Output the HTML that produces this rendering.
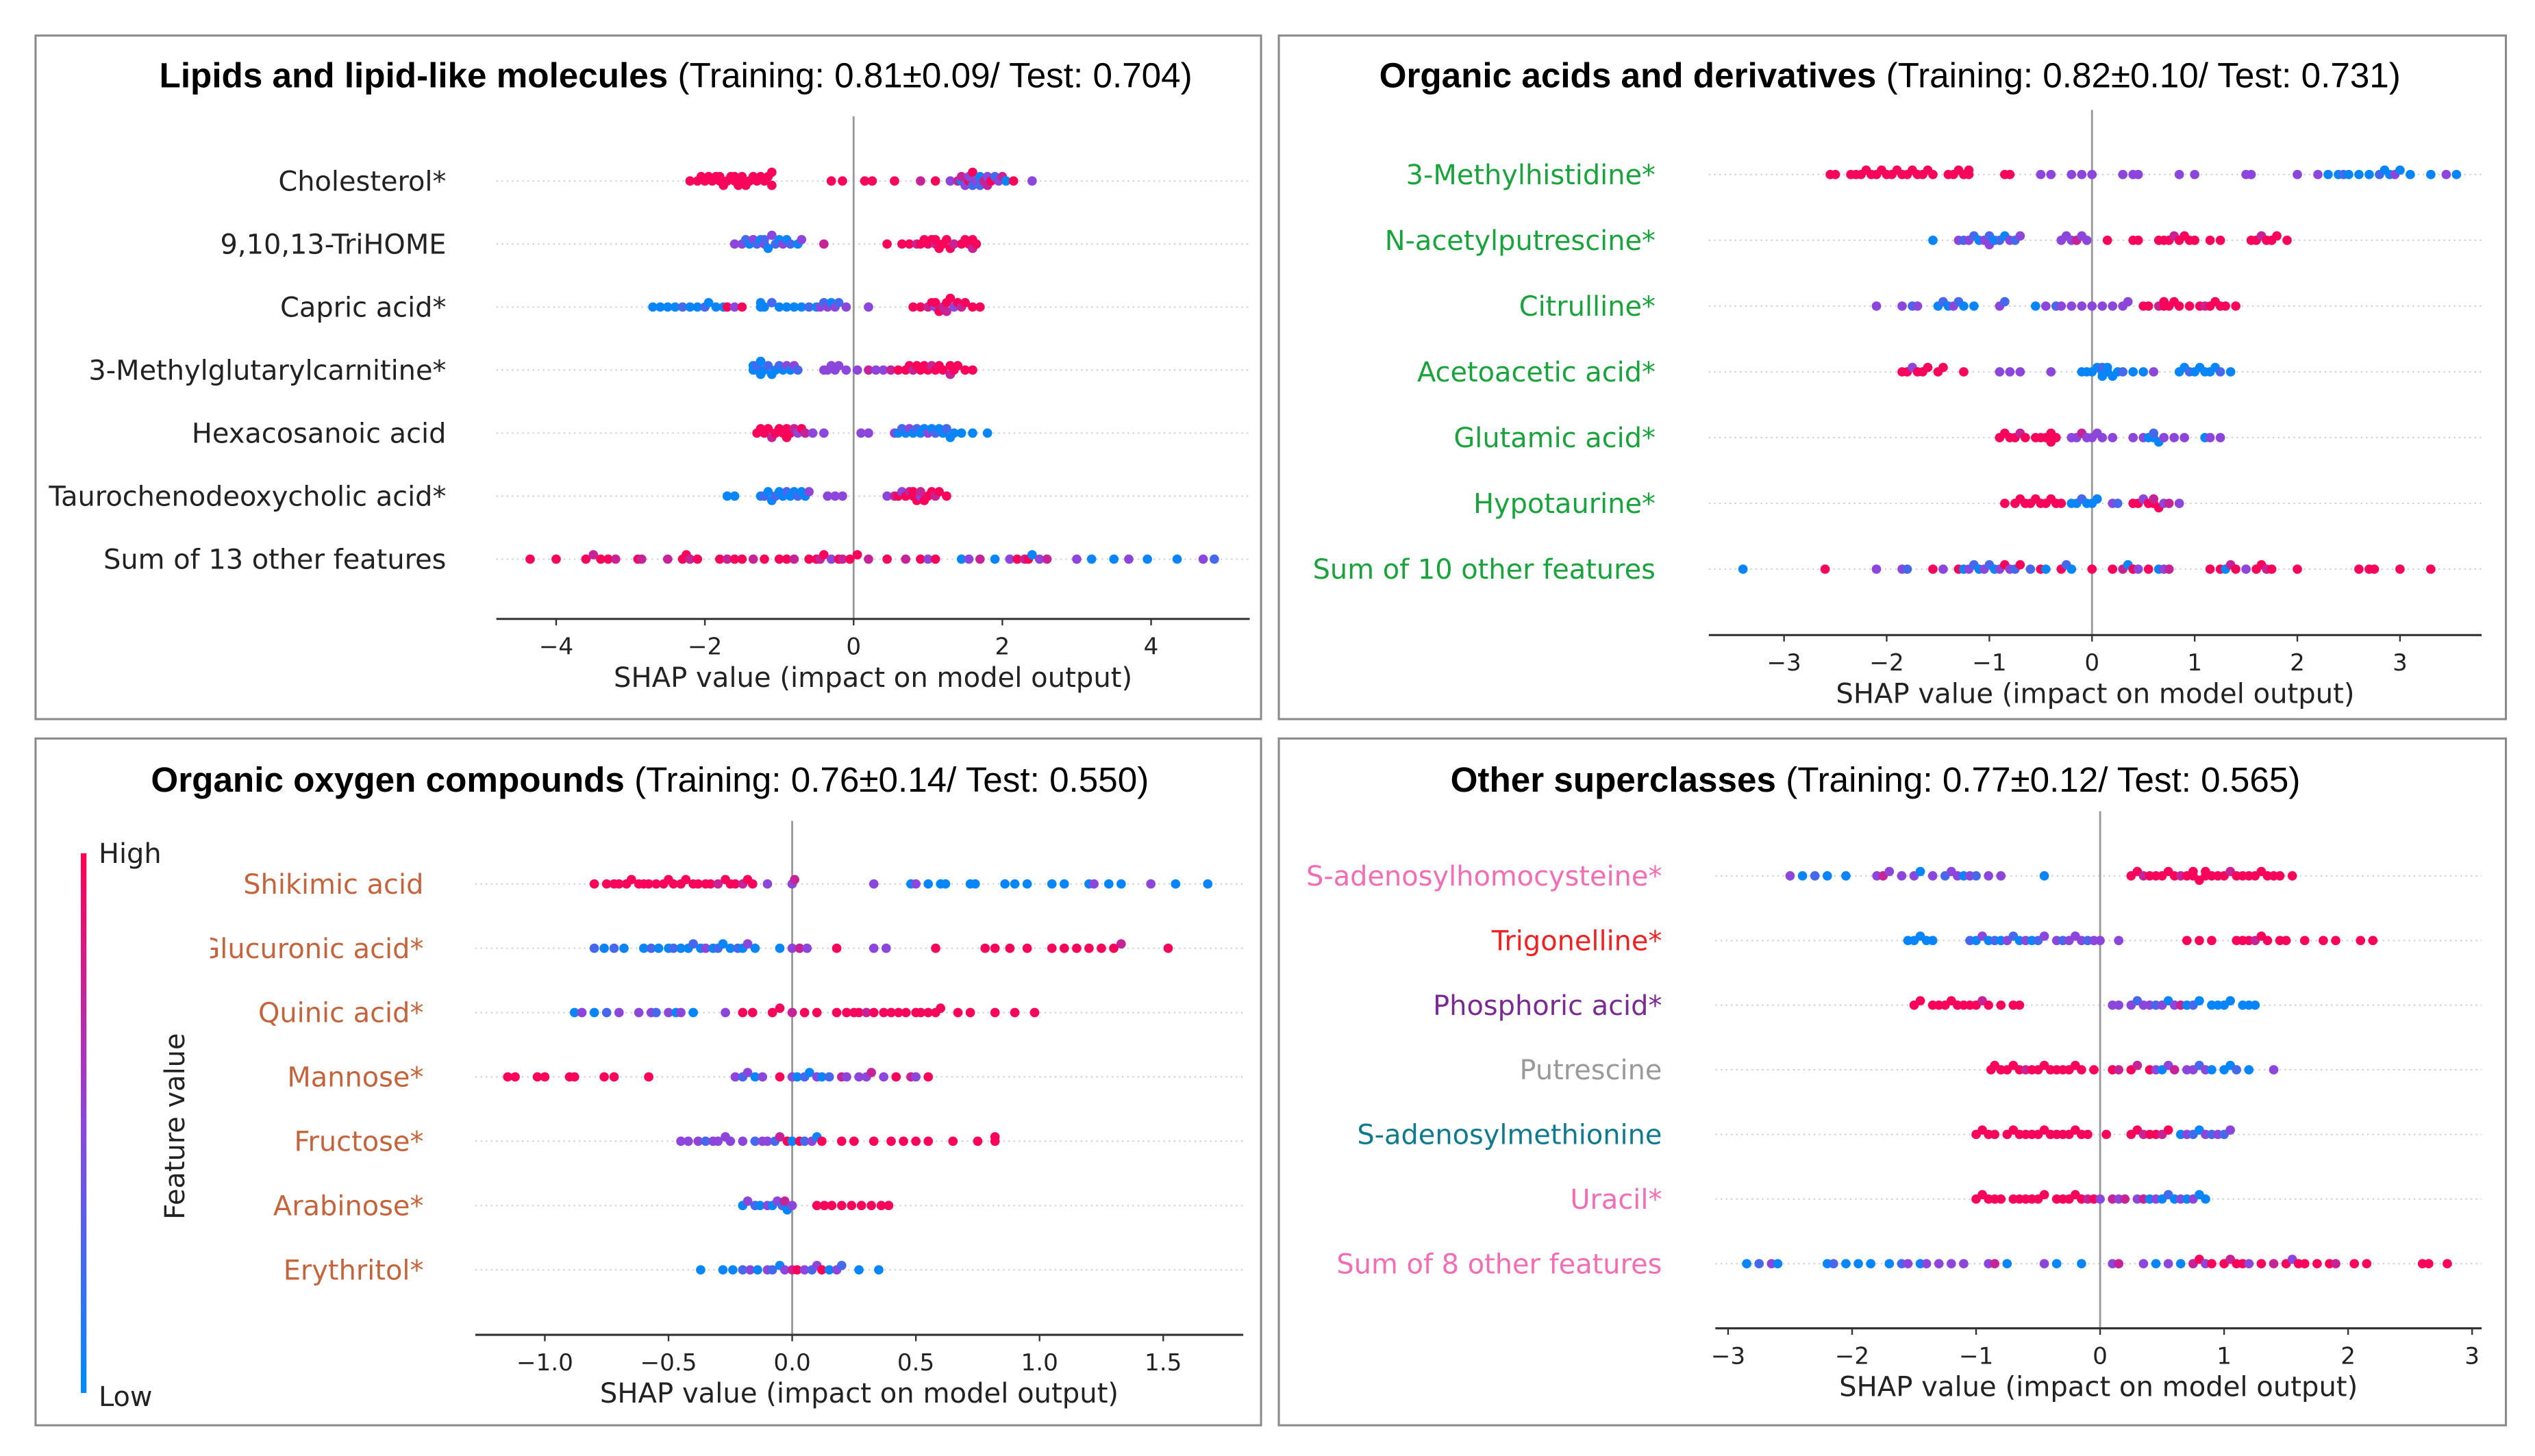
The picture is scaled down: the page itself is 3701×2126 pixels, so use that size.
<!DOCTYPE html>
<html><head><meta charset="utf-8"><style>
html,body{margin:0;padding:0;background:#fff;}
svg{display:block;}
.lab{font-family:"DejaVu Sans",sans-serif;font-size:16.9px;}
.axt{font-family:"DejaVu Sans",sans-serif;font-size:17px;fill:#222;}
.tick{font-family:"DejaVu Sans",sans-serif;font-size:14.5px;fill:#222;}
.ttl{font-family:"Liberation Sans",sans-serif;font-size:21.7px;fill:#000;}
</style></head><body>
<svg id="fig" xmlns="http://www.w3.org/2000/svg" width="3701" height="2126" viewBox="0 0 1568 901" preserveAspectRatio="none">
<rect x="0" y="0" width="1568" height="901" fill="#fff"/>
<defs><linearGradient id="cb" x1="0" y1="1" x2="0" y2="0">
<stop offset="0" stop-color="#008bfb"/><stop offset="0.5" stop-color="#8c46dc"/><stop offset="1" stop-color="#ff0052"/></linearGradient>
<clipPath id="oxyclip"><rect x="130" y="457" width="700" height="430"/></clipPath></defs>
<g>
<rect x="50" y="528" width="3.5" height="334" fill="url(#cb)"/>
<text class="lab" x="61" y="534" fill="#222">High</text>
<text class="lab" x="61" y="870" fill="#222">Low</text>
<text class="lab" transform="translate(114,697) rotate(-90)" text-anchor="middle" fill="#222" font-size="18">Feature value</text>
</g>
</svg>
<script>
// ---------- data ----------
const lipLabels=["Cholesterol*","9,10,13-TriHOME","Capric acid*","3-Methylglutarylcarnitine*","Hexacosanoic acid","Taurochenodeoxycholic acid*","Sum of 13 other features"];
const lipTicks=[-4,-2,0,2,4];
const lipRows=[
"-2.2h -2.1h -2.05h -2.0h -1.95h -1.9h -1.85h -1.8h -1.8h -1.75h -1.7h -1.65h -1.6h -1.6h -1.55h -1.5h -1.5h -1.45h -1.4h -1.35h -1.3h -1.25h -1.2h -1.15h -1.1h -1.1h -0.3h -0.15h 0.15h 0.25h 0.55h 0.9p 1.1h 1.3m 1.4p 1.45l 1.5m 1.55h 1.6b 1.65m 1.7l 1.75p 1.8m 1.85h 1.9b 1.95m 2.0p 2.05l 2.15h 2.4m 1.45p 1.55m 1.6h 1.7b 1.8p",
"-1.6m -1.5m -1.45b -1.4l -1.35m -1.3b -1.25l -1.2m -1.2b -1.15l -1.1m -1.05b -1.0l -0.95m -0.9l -0.85b -0.75l -0.7m -0.4p 0.45h 0.65h 0.75h 0.85p 0.9h 0.95h 1.0h 1.05h 1.1p 1.1h 1.15h 1.2h 1.25h 1.3h 1.35p 1.45h 1.5h 1.55h 1.6h 1.65h 1.6p",
"-2.7l -2.6l -2.5l -2.4l -2.3b -2.2l -2.1l -2.0b -1.95l -1.85l -1.75l -1.7h -1.6m -1.5h -1.25l -1.25l -1.2l -1.1b -1.0l -0.9l -0.8l -0.7l -0.6b -0.5l -0.45m -0.4b -0.35m -0.3l -0.25m -0.2b -0.1m 0.2m 0.8h 0.9h 1.0p 1.05h 1.1m 1.15h 1.2p 1.25h 1.3h 1.35m 1.4h 1.45p 1.5h 1.6h 1.7h 1.1h 1.25p",
"-1.35l -1.35l -1.3l -1.3b -1.25l -1.25l -1.2l -1.15b -1.1l -1.05l -1.0b -0.95l -0.9m -0.85l -0.8m -0.75b -0.4m -0.35m -0.3m -0.25m -0.2m -0.1m 0.05m 0.2p 0.3m 0.4m 0.5p 0.6h 0.7h 0.75h 0.8p 0.85h 0.9h 0.95h 1.0h 1.05p 1.1h 1.15h 1.2h 1.3h 1.35h 1.4h 1.5h 1.6h 1.3p",
"-1.3h -1.25h -1.2h -1.15h -1.1p -1.05h -1.0h -0.95h -0.9h -0.9h -0.85h -0.8p -0.75m -0.7h -0.65p -0.55m -0.4m 0.1m 0.2m 0.55m 0.6l 0.65b 0.7l 0.75m 0.8l 0.85b 0.9l 0.95l 1.0m 1.05l 1.1b 1.15l 1.2l 1.25b 1.3l 1.35l 1.45l 1.6l 1.8l",
"-1.7l -1.6l -1.25l -1.2b -1.15l -1.1l -1.05b -1.0l -0.95l -0.9b -0.85l -0.8l -0.75b -0.7l -0.65l -0.6m -0.35m -0.25m -0.15m 0.45m 0.55p 0.6h 0.65m 0.7h 0.75p 0.8h 0.85h 0.9m 0.95h 1.0h 1.05h 1.1p 1.15h 1.25h 0.8h 0.9p",
"-4.35h -4.0h -3.6h -3.5p -3.4h -3.3h -3.2p -2.9h -2.85p -2.5p -2.3h -2.25h -2.2p -2.1h -1.8h -1.7p -1.6h -1.5h -1.35p -1.2h -1.0h -0.9h -0.8p -0.6h -0.5h -0.45p -0.4h -0.3m -0.2h -0.15p -0.05h 0.05h 0.2p 0.45h 0.7p 0.9h 1.0m 1.1h 1.45l 1.55m 1.7p 1.9l 2.1m 2.2h 2.3p 2.35h 2.4l 2.5m 2.6p 3.0m 3.2l 3.5l 3.7m 3.95l 4.35l 4.7m 4.85b"
];

const acidLabels=["3-Methylhistidine*","N-acetylputrescine*","Citrulline*","Acetoacetic acid*","Glutamic acid*","Hypotaurine*","Sum of 10 other features"];
const acidTicks=[-3,-2,-1,0,1,2,3];
const acidRows=[
"-2.55h -2.5h -2.35h -2.3h -2.25h -2.2h -2.15h -2.1h -2.05h -2.0h -1.95h -1.9h -1.85h -1.8h -1.75h -1.7h -1.65h -1.6h -1.55h -1.4h -1.35h -1.3h -1.25h -1.2h -1.2h -0.85h -0.8h -0.5m -0.4m -0.2m -0.1m 0.0m 0.3m 0.4m 0.45m 0.85m 1.0m 1.5m 1.55m 2.0m 2.2m 2.3l 2.4l 2.45b 2.5l 2.6l 2.7l 2.8b 2.85l 2.9l 2.95m 3.0l 3.1l 3.3l 3.45m 3.55l",
"-1.55l -1.3m -1.25b -1.2m -1.15b -1.1l -1.05m -1.0b -1.0m -0.95l -0.9b -0.85l -0.8m -0.75b -0.7m -0.3m -0.25m -0.2m -0.15p -0.1m -0.05m 0.15h 0.4h 0.45h 0.65h 0.7h 0.75h 0.8p 0.85h 0.9h 0.95h 1.0h 1.15h 1.25h 1.55h 1.6h 1.65p 1.7h 1.75h 1.8h 1.9h",
"-2.1m -1.85m -1.75b -1.7m -1.5l -1.45b -1.4l -1.35m -1.3b -1.25l -1.15l -0.9m -0.85b -0.55l -0.45m -0.35b -0.3m -0.2m -0.1m 0.0m 0.1m 0.2m 0.3m 0.35m 0.5h 0.55h 0.65p 0.7h 0.75h 0.8h 0.85h 0.95h 1.05h 1.1p 1.15h 1.2h 1.25h 1.3h 1.4h 0.7h",
"-1.85h -1.8h -1.75m -1.7h -1.65h -1.6h -1.5h -1.45h -1.25h -0.9m -0.8m -0.7m -0.4m -0.1l -0.05l 0.0l 0.05l 0.1l 0.1b 0.15l 0.2l 0.25l 0.3b 0.4l 0.5l 0.6m 0.85l 0.9l 0.95b 1.0l 1.05l 1.1l 1.15l 1.2l 1.25b 1.35l 0.1l 0.15l",
"-0.9h -0.85h -0.8h -0.75h -0.7p -0.65h -0.55h -0.5h -0.45h -0.4h -0.4h -0.35h -0.2m -0.15m -0.1p -0.05m 0.0m 0.05m 0.1m 0.2m 0.4m 0.5m 0.55l 0.6l 0.6b 0.65l 0.7m 0.8m 0.9m 1.1l 1.15m 1.25m",
"-0.85h -0.75h -0.7h -0.65h -0.6h -0.55h -0.5h -0.45h -0.4h -0.35h -0.3h -0.2l -0.15l -0.1b -0.05l 0.0l 0.05l 0.2m 0.25b 0.4h 0.45h 0.5m 0.55h 0.6h 0.6p 0.65h 0.7m 0.75p 0.85m",
"-3.4l -2.6h -2.1m -1.85m -1.8b -1.55h -1.45m -1.3h -1.25l -1.2m -1.15b -1.1l -1.05m -1.0b -0.95l -0.9m -0.85h -0.8m -0.75b -0.7h -0.6b -0.5h -0.45l -0.3h -0.25b -0.2l 0.0h 0.2h 0.3p 0.35l 0.4h 0.45m 0.55h 0.65l 0.7m 0.75p 1.15h 1.25h 1.3l 1.35p 1.4h 1.5m 1.6h 1.65h 1.7p 1.75h 2.0h 2.6h 2.7h 2.75h 3.0h 3.3h"
];

const oxyLabels=["Shikimic acid","Glucuronic acid*","Quinic acid*","Mannose*","Fructose*","Arabinose*","Erythritol*"];
const oxyTicks=[-1.0,-0.5,0.0,0.5,1.0,1.5];
const oxyRows=[
"-0.8h -0.75h -0.72h -0.7h -0.67h -0.65h -0.62h -0.6h -0.58h -0.55h -0.52h -0.5h -0.48h -0.45h -0.43h -0.4h -0.38h -0.35h -0.33h -0.3p -0.27h -0.25h -0.23h -0.2p -0.18h -0.16h -0.1m 0.0m 0.01p 0.33m 0.48l 0.5m 0.55l 0.6l 0.62l 0.72l 0.74l 0.86l 0.9l 0.95l 1.05l 1.1l 1.2l 1.22m 1.28l 1.33l 1.45m 1.55l 1.68l",
"-0.8b -0.76l -0.72b -0.68l -0.6l -0.57b -0.54l -0.5l -0.48b -0.45l -0.42l -0.4b -0.37l -0.35m -0.32l -0.3b -0.28l -0.25l -0.22b -0.2l -0.18m -0.15l -0.05l 0.0m 0.03p 0.06m 0.18h 0.33m 0.38m 0.58h 0.78h 0.82h 0.88h 0.95h 1.05h 1.1h 1.15h 1.2h 1.25h 1.3h 1.33p 1.52h",
"-0.88l -0.85m -0.8l -0.75b -0.7m -0.62m -0.57m -0.55b -0.5m -0.47l -0.45m -0.4l -0.27m -0.2h -0.16h -0.08h -0.05h 0.0p 0.05h 0.1h 0.18h 0.22h 0.25h 0.27h 0.3p 0.33h 0.37h 0.4h 0.43h 0.46h 0.5h 0.52h 0.55h 0.58h 0.6h 0.67h 0.72h 0.82h 0.9h 0.98h",
"-1.15h -1.12h -1.03h -1.0h -0.9h -0.88h -0.76h -0.72h -0.58h -0.23m -0.2b -0.18m -0.15l -0.12m -0.05h 0.0m 0.02l 0.05b 0.07l 0.1m 0.12l 0.15b 0.2p 0.22m 0.27m 0.3m 0.32p 0.37m 0.42h 0.48p 0.5m 0.55h",
"-0.45m -0.42m -0.38m -0.35b -0.32m -0.3m -0.27m -0.25m -0.2m -0.15b -0.12m -0.1m -0.07b -0.05p -0.02h 0.0l 0.03h 0.05b 0.08m 0.1l 0.12h 0.2h 0.25h 0.33h 0.4h 0.45h 0.5h 0.55h 0.65h 0.75h 0.82h 0.82h",
"-0.2l -0.18m -0.15b -0.13l -0.1m -0.08l -0.06m -0.04b -0.02l 0.0m -0.03p 0.1h 0.13h 0.16h 0.2h 0.24h 0.28h 0.32h 0.36h 0.39h",
"-0.37l -0.28l -0.24l -0.2b -0.17m -0.14l -0.1m -0.08b -0.05l -0.03m 0.0p 0.02h 0.05m 0.08b 0.1m 0.12h 0.15l 0.18m 0.2b 0.27l 0.35l"
];

const othLabels=["S-adenosylhomocysteine*","Trigonelline*","Phosphoric acid*","Putrescine","S-adenosylmethionine","Uracil*","Sum of 8 other features"];
const othTicks=[-3,-2,-1,0,1,2,3];
const othRows=[
"-2.5m -2.4l -2.3b -2.2l -2.05l -1.8m -1.75p -1.7m -1.6m -1.5m -1.45l -1.35m -1.25b -1.2m -1.15m -1.1l -1.05m -1.0b -0.9m -0.8m -0.45l 0.25h 0.3h 0.35p 0.4h 0.45h 0.5h 0.55h 0.6h 0.65p 0.7h 0.75h 0.8h 0.85h 0.9h 0.95h 1.0h 1.05p 1.1h 1.15h 1.2h 1.25h 1.3h 1.35h 1.4h 1.45h 1.55h 0.85h 0.75h",
"-1.55l -1.5l -1.45l -1.4l -1.35l -1.05b -1.0l -0.95m -0.9l -0.85b -0.8l -0.75m -0.7b -0.65l -0.6m -0.55l -0.5b -0.45m -0.35m -0.3b -0.25m -0.2m -0.15m -0.1b -0.05m 0.0m 0.15m 0.7h 0.8h 0.9h 1.1h 1.15h 1.2h 1.25p 1.3h 1.35h 1.45h 1.5h 1.65h 1.8h 1.9h 2.1h 2.2h",
"-1.5h -1.45h -1.35h -1.3h -1.25h -1.2h -1.15h -1.1h -1.05h -1.0h -0.95p -0.9h -0.8h -0.7h -0.65h 0.1m 0.15m 0.25m 0.3b 0.35m 0.4m 0.45b 0.5m 0.55l 0.6m 0.65p 0.7l 0.75b 0.8l 0.9l 0.95l 1.0l 1.05l 1.15l 1.2l 1.25l",
"-0.88h -0.85h -0.8h -0.75h -0.7h -0.65h -0.6p -0.55h -0.5h -0.45h -0.4h -0.35h -0.3h -0.25h -0.2h -0.15h -0.05h 0.1h 0.15p 0.25h 0.3p 0.4h 0.45m 0.5l 0.55m 0.6p 0.7m 0.75m 0.8b 0.85m 0.9l 1.0l 1.05l 1.1b 1.2l 1.4m",
"-1.0h -0.95h -0.9h -0.85h -0.75h -0.7h -0.65h -0.6h -0.55h -0.5h -0.45h -0.4h -0.35h -0.3h -0.25h -0.2h -0.15h -0.1h 0.05h 0.25h 0.3h 0.35p 0.4h 0.45h 0.5p 0.55h 0.65l 0.7m 0.75b 0.8l 0.85m 0.9b 0.95m 1.0b 1.05m",
"-1.0h -0.95h -0.9h -0.85h -0.8h -0.7h -0.65h -0.6h -0.55h -0.5h -0.45h -0.35h -0.3h -0.25h -0.2h -0.15h -0.1p -0.05h 0.0m 0.1p 0.15m 0.2p 0.3m 0.35p 0.4l 0.45m 0.5l 0.55b 0.6l 0.65m 0.7l 0.75m 0.8l 0.85l",
"-2.85l -2.75b -2.65m -2.6l -2.2l -2.15b -2.05l -1.95l -1.85l -1.7l -1.6b -1.55m -1.45l -1.4m -1.3m -1.2m -1.1m -0.9m -0.85p -0.75l -0.45m -0.35l -0.15l 0.1m 0.15p 0.35m 0.45l 0.55m 0.65l 0.75p 0.8h 0.85m 0.9h 1.0h 1.05p 1.1h 1.15h 1.2m 1.3h 1.4p 1.5h 1.55m 1.6h 1.65h 1.75h 1.85h 1.9p 2.05h 2.15h 2.6h 2.65h 2.8h"
];

// ---------- drawing ----------
const NS="http://www.w3.org/2000/svg";
const svg=document.getElementById('fig');
const LEVEL={l:0.03,b:0.25,m:0.5,p:0.75,h:0.97};
function cmap(t){
  const a=[0,138,251],m=[140,70,220],b=[255,0,82];
  let c;
  if(t<0.5){const u=t/0.5;c=a.map((v,i)=>Math.round(v+(m[i]-v)*u));}
  else{const u=(t-0.5)/0.5;c=m.map((v,i)=>Math.round(v+(b[i]-v)*u));}
  return 'rgb('+c.join(',')+')';
}
function mk(tag,attrs,parent){const e=document.createElementNS(NS,tag);for(const k in attrs)e.setAttribute(k,attrs[k]);(parent||svg).appendChild(e);return e;}
function parseRow(s){return s.trim().split(/\s+/).map(tok=>({v:parseFloat(tok),c:LEVEL[tok.slice(-1)]}));}

function drawPanel(p){
  const g=mk('g',{});
  
  
  const box=mk('rect',{x:p.box[0],y:p.box[1],width:p.box[2]-p.box[0],height:p.box[3]-p.box[1],fill:'none',stroke:'#8a8a8a','stroke-width':1.3},g);
  
  
  const t=mk('text',{class:'ttl',x:p.titleX,y:p.titleY,'text-anchor':'middle'},g);
  
  
  const tb=mk('tspan',{'font-weight':'bold'},t);tb.textContent=p.titleBold;
  const tn=mk('tspan',{},t);tn.textContent=' '+p.titleRest;
  const X=v=>p.zero+v*p.scale;
  const lg=mk('g',p.clip?{'clip-path':'url(#'+p.clip+')'}:{},g);
  
  
  p.labels.forEach((lab,i)=>{
    const y=p.row0+i*p.rowStep;
    const gl=mk('line',{x1:p.axL,x2:p.axR,y1:y,y2:y,stroke:'#cfcfcf','stroke-width':0.9,'stroke-dasharray':'1 2.2'},g);
    
    
    const tx=mk('text',{class:'lab',x:p.labX,y:y+6,'text-anchor':'end',fill:p.labColors[i]},lg);
    
    
    tx.textContent=lab;
  });
  const zl=mk('line',{x1:X(0),x2:X(0),y1:p.zTop,y2:p.axY,stroke:'#999','stroke-width':1.2},g);
  
  
  const r=2.9, bw=4.8, step=2.7;
  p.rows.forEach((s,i)=>{
    const y=p.row0+i*p.rowStep;
    const pts=parseRow(s).sort((a,b)=>a.v-b.v);
    const bins={};
    pts.forEach(pt=>{
      const bx=Math.round(X(pt.v)/bw);
      const k=bins[bx]||0;bins[bx]=k+1;
      const off=((k+1)>>1)*(k%2?-1:1)*step;
      const c=mk('circle',{cx:X(pt.v),cy:y+off,r:r,fill:cmap(pt.c)},g);
      
      
    });
  });
  const ax=mk('line',{x1:p.axL,x2:p.axR,y1:p.axY,y2:p.axY,stroke:'#333','stroke-width':1.3},g);
  
  
  p.ticks.forEach(v=>{
    const tk=mk('line',{x1:X(v),x2:X(v),y1:p.axY,y2:p.axY+4,stroke:'#333','stroke-width':1},g);
    
    
    const tl=mk('text',{class:'tick',x:X(v),y:p.axY+22,'text-anchor':'middle'},g);
    
    
    tl.textContent=(v<0?'\u2212':'')+Math.abs(v).toFixed(p.dec);
  });
  const at=mk('text',{class:'axt',x:(p.axL+p.axR)/2,y:p.axY+42,'text-anchor':'middle'},g);
  
  
  at.textContent='SHAP value (impact on model output)';
}

drawPanel({name:'lipids-panel',box:[22,22,780,445],titleBold:'Lipids and lipid-like molecules',titleRest:'(Training: 0.81\u00b10.09/ Test: 0.704)',titleX:418,titleY:54,
  labels:lipLabels,rows:lipRows,ticks:lipTicks,dec:0,labColors:Array(7).fill('#222'),
  zero:528,scale:46,row0:112,rowStep:39,labX:276,axL:307,axR:773,axY:383,zTop:72});
drawPanel({name:'organic-acids-panel',box:[791,22,1550,445],titleBold:'Organic acids and derivatives',titleRest:'(Training: 0.82\u00b10.10/ Test: 0.731)',titleX:1169,titleY:54,
  labels:acidLabels,rows:acidRows,ticks:acidTicks,dec:0,labColors:Array(7).fill('#1aa33c'),
  zero:1294,scale:63.5,row0:108,rowStep:40.7,labX:1024,axL:1057,axR:1535,axY:393,zTop:68});
drawPanel({name:'organic-oxygen-panel',box:[22,457,780,882],titleBold:'Organic oxygen compounds',titleRest:'(Training: 0.76\u00b10.14/ Test: 0.550)',titleX:402,titleY:490,
  labels:oxyLabels,rows:oxyRows,ticks:oxyTicks,dec:1,labColors:Array(7).fill('#c4643c'),clip:'oxyclip',
  zero:490,scale:153,row0:547,rowStep:39.8,labX:262,axL:294,axR:769,axY:826,zTop:508});
drawPanel({name:'other-superclasses-panel',box:[791,457,1550,882],titleBold:'Other superclasses',titleRest:'(Training: 0.77\u00b10.12/ Test: 0.565)',titleX:1160,titleY:490,
  labels:othLabels,rows:othRows,ticks:othTicks,dec:0,labColors:['#f26db4','#ee2222','#7a2a92','#9a9a9a','#0f7a8c','#f26db4','#f26db4'],
  zero:1299,scale:76.7,row0:542,rowStep:40,labX:1028,axL:1061,axR:1535,axY:822,zTop:502});
</script>
</body></html>
